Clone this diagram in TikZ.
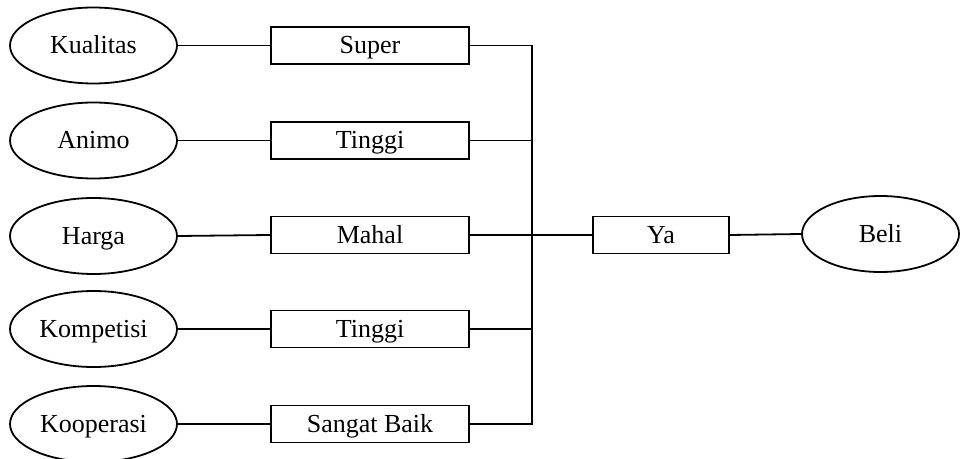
\documentclass[tikz,border=0pt]{standalone}
\usepackage{fontspec}
\setmainfont{Liberation Serif}
\usetikzlibrary{shapes.geometric}

\tikzset{
  attr/.style={draw, ellipse, line width=0.9pt, inner sep=0pt,
    minimum width=83.5pt, minimum height=38pt, text height=11pt, text depth=2.5pt,
    font=\fontsize{13}{15}\selectfont},
  val/.style={draw, rectangle, line width=0.9pt, inner sep=0pt,
    minimum width=99pt, minimum height=18.5pt, text height=11pt, text depth=2.5pt,
    font=\fontsize{13}{15}\selectfont},
  wire/.style={line width=0.9pt}
}

\begin{document}
\begin{tikzpicture}[x=0.5pt, y=-0.5pt] % 1 unit = 1 pixel
        \useasboundingbox (0,0) rectangle (961,459);

        % Attributes
        \node[attr] (kualitas) at (93.5,45.5) {Kualitas};
        \node[attr] (animo) at (93.5,140.5) {Animo};
        \node[attr] (harga) at (93.5,236) {Harga};
        \node[attr] (kompetisi) at (93.5,329) {Kompetisi};
        \node[attr] (kooperasi) at (93.5,424) {Kooperasi};

        % Values
        \node[val] (super) at (370,45.5) {Super};
        \node[val] (tinggi1) at (370,140.5) {Tinggi};
        \node[val] (mahal) at (370,235) {Mahal};
        \node[val] (tinggi2) at (370,329) {Tinggi};
        \node[val] (baik) at (370,424) {Sangat Baik};

        % Result
        \node[val, minimum width=68pt] (ya) at (661,235) {Ya};
        \node[attr, minimum width=78.5pt] (beli) at (880.5,234) {Beli};

        % Attribute to value
        \draw[wire] (kualitas.east) -- (super.west);
        \draw[wire] (animo.east) -- (tinggi1.west);
        \draw[wire] (harga.east) -- (mahal.west);
        \draw[wire] (kompetisi.east) -- (tinggi2.west);
        \draw[wire] (kooperasi.east) -- (baik.west);

        % Bus
        \coordinate (bustop) at (532,45.5);
        \coordinate (busbot) at (532,424);
        \draw[wire] (super.east) -- (bustop) -- (busbot) -- (baik.east);
        \draw[wire] (tinggi1.east) -- (tinggi1.east -| bustop);
        \draw[wire] (tinggi2.east) -- (tinggi2.east -| bustop);
        \draw[wire] (mahal.east) -- (ya.west);
        \draw[wire] (ya.east) -- (beli.west);
    \end{tikzpicture}
\end{document}
